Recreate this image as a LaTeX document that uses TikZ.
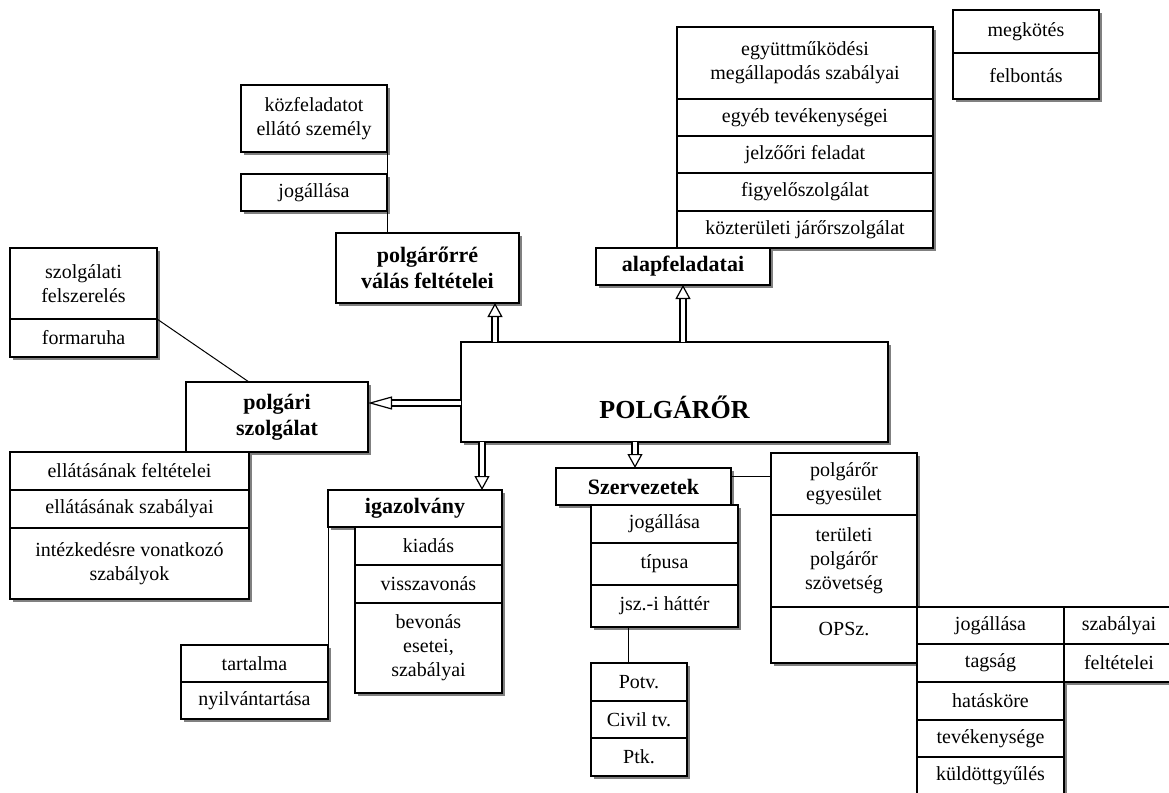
\documentclass[tikz,border=0pt]{standalone}
\usepackage{fontspec}
\setmainfont{Liberation Serif}
\usetikzlibrary{positioning,shadows,arrows.meta}

\begin{document}
\begin{tikzpicture}[
        x=0.5pt,y=-0.5pt, line width=0.8pt,
        every node/.style={font=\fontsize{10}{12}\selectfont}
    ]

    \tikzstyle{cell} = [rectangle,draw,fill=white,outer sep=0pt,inner sep=2pt,align=center,
        drop shadow={shadow xshift=1.6pt,shadow yshift=-1.6pt,fill=black!50,opacity=1}]
    \tikzstyle{head} = [cell,font=\fontsize{11}{13}\selectfont\bfseries]
    \tikzstyle{hollow} = [double,double distance=2.4pt,line width=0.6pt,
        -{Triangle[open,length=7pt,width=7.5pt,line width=0.6pt]}]

    \useasboundingbox (0,0) rectangle (1169,793);
    \clip (0,0) rectangle (1169,793);

    % polgarorre valas
    \node[cell,anchor=north west,minimum width=73pt,minimum height=33.5pt] (kozfel) at (241,85) {közfeladatot\\ellátó személy};
    \node[cell,anchor=north west,minimum width=73pt,minimum height=18.5pt] (kozjog) at (241,174) {jogállása};
    \node[head,anchor=north west,minimum width=91.5pt,minimum height=35pt] (feltetel) at (336,233) {polgárőrré\\válás feltételei};

    % polgari szolgalat
    \node[cell,anchor=north west,minimum width=73.5pt,minimum height=35.5pt] (felszer) at (10,248) {szolgálati\\felszerelés};
    \node[cell,below=0pt of felszer,minimum width=73.5pt,minimum height=19pt] (forma) {formaruha};
    \node[head,anchor=north west,minimum width=91pt,minimum height=35pt] (szolg) at (186,382) {polgári\\szolgálat};
    \node[cell,anchor=north west,minimum width=119.5pt,minimum height=19pt] (ellat1) at (10,452) {ellátásának feltételei};
    \node[cell,below=0pt of ellat1,minimum width=119.5pt,minimum height=19pt] (ellat2) {ellátásának szabályai};
    \node[cell,below=0pt of ellat2,minimum width=119.5pt,minimum height=35.5pt] (ellat3) {intézkedésre vonatkozó\\szabályok};

    % kozpont
    \node[cell,anchor=north west,minimum width=213.5pt,minimum height=50pt,
        font=\fontsize{13}{15}\selectfont\bfseries,text height=30pt,text depth=3.4pt] (root) at (461,342) {POLGÁRŐR};

    % alapfeladatai
    \node[cell,anchor=north west,minimum width=128pt,minimum height=36pt] (egyutt) at (677,27) {együttműködési\\megállapodás szabályai};
    \node[cell,below=0pt of egyutt,minimum width=128pt,minimum height=18.5pt] (egyeb) {egyéb tevékenységei};
    \node[cell,below=0pt of egyeb,minimum width=128pt,minimum height=18.5pt] (jelzo) {jelzőőri feladat};
    \node[cell,below=0pt of jelzo,minimum width=128pt,minimum height=19pt] (figyelo) {figyelőszolgálat};
    \node[cell,below=0pt of figyelo,minimum width=128pt,minimum height=18.5pt] (jaror) {közterületi járőrszolgálat};
    \node[head,anchor=north west,minimum width=87pt,minimum height=18.5pt] (alap) at (596,248) {alapfeladatai};

    % megkotes
    \node[cell,anchor=north west,minimum width=73pt,minimum height=21.5pt] (megkot) at (953,10) {megkötés};
    \node[cell,below=0pt of megkot,minimum width=73pt,minimum height=23pt] (felbont) {felbontás};
    \draw[line width=1.3pt] (megkot.south west) -- (megkot.south east);

    % igazolvany
    \node[head,anchor=north west,minimum width=87pt,minimum height=18.5pt] (igaz) at (328,490) {igazolvány};
    \node[cell,anchor=north east,minimum width=73.5pt,minimum height=19pt] (kiadas) at (igaz.south east) {kiadás};
    \node[cell,below=0pt of kiadas,minimum width=73.5pt,minimum height=19pt] (vissza) {visszavonás};
    \node[cell,below=0pt of vissza,minimum width=73.5pt,minimum height=45pt] (bevon) {bevonás\\esetei,\\szabályai};
    \node[cell,anchor=north west,minimum width=73.5pt,minimum height=18.5pt] (tartalom) at (181,645) {tartalma};
    \node[cell,below=0pt of tartalom,minimum width=73.5pt,minimum height=18.5pt] (nyilv) {nyilvántartása};

    % szervezetek
    \node[head,anchor=north west,minimum width=87.5pt,minimum height=18.5pt] (szerv) at (556,468) {Szervezetek};
    \node[cell,anchor=north west,minimum width=73.5pt,minimum height=19pt] (szjog) at (591,505) {jogállása};
    \node[cell,below=0pt of szjog,minimum width=73.5pt,minimum height=21pt] (sztip) {típusa};
    \node[cell,below=0pt of sztip,minimum width=73.5pt,minimum height=21pt] (szhat) {jsz.-i háttér};
    \node[cell,anchor=north west,minimum width=48pt,minimum height=19pt] (potv) at (591,663) {Potv.};
    \node[cell,below=0pt of potv,minimum width=48pt,minimum height=18.5pt] (civil) {Civil tv.};
    \node[cell,below=0pt of civil,minimum width=48pt,minimum height=19pt] (ptk) {Ptk.};

    % egyesuletek
    \node[cell,anchor=north west,minimum width=73pt,minimum height=31pt] (egyes) at (771,453) {polgárőr\\egyesület};
    \node[cell,below=0pt of egyes,minimum width=73pt,minimum height=46pt] (terul) {területi\\polgárőr\\szövetség};
    \node[cell,below=0pt of terul,minimum width=73pt,minimum height=28pt,text height=5pt,text depth=5pt] (opsz) {OPSz.};
    \node[cell,anchor=north west,minimum width=73.5pt,minimum height=18.5pt] (opjog) at (917,607) {jogállása};
    \node[cell,below=0pt of opjog,minimum width=73.5pt,minimum height=19pt] (tagsag) {tagság};
    \node[cell,below=0pt of tagsag,minimum width=73.5pt,minimum height=19pt] (hatas) {hatásköre};
    \node[cell,below=0pt of hatas,minimum width=73.5pt,minimum height=18.5pt] (tevek) {tevékenysége};
    \node[cell,below=0pt of tevek,minimum width=73.5pt,minimum height=19pt] (kuldott) {küldöttgyűlés};
    \node[cell,anchor=north west,minimum width=55pt,minimum height=18.5pt] (szab) at (1064,607) {szabályai};
    \node[cell,below=0pt of szab,minimum width=55pt,minimum height=19pt] (feltet) {feltételei};

    % vonalak
    \draw[line width=0.5pt] (kozfel.south east) -- (kozjog.north east);
    \draw[line width=0.5pt] (kozjog.south east) -- (kozjog.south east |- feltetel.north);
    \draw[line width=0.5pt] (forma.north east) -- (ellat1.east |- szolg.north);
    \draw[line width=0.5pt] (igaz.south west) -- (tartalom.north east);
    \coordinate (szk) at ([yshift=5.25pt]szerv.east);
    \draw[line width=0.5pt] (szk) -- (szk -| egyes.west);
    \coordinate (jk) at ([xshift=-5.5pt]potv.north);
    \draw[line width=0.5pt] (jk |- szhat.south) -- (jk);

    % nyilak
    \coordinate (r1) at ([xshift=17pt]root.north west);
    \draw[hollow] (r1) -- (r1 |- feltetel.south);
    \draw[hollow] (alap.south |- root.north) -- (alap.south);
    \coordinate (r3) at ([yshift=-5.5pt]root.west);
    \draw[hollow,-{Triangle[open,length=12pt,width=6.5pt,line width=0.6pt]}] (r3) -- (r3 -| szolg.east);
    \coordinate (r4) at ([xshift=10.5pt]root.south west);
    \draw[hollow] (r4) -- (r4 |- igaz.north);
    \coordinate (r5) at ([xshift=87pt]root.south west);
    \draw[hollow] (r5) -- (r5 |- szerv.north);

\end{tikzpicture}
\end{document}
